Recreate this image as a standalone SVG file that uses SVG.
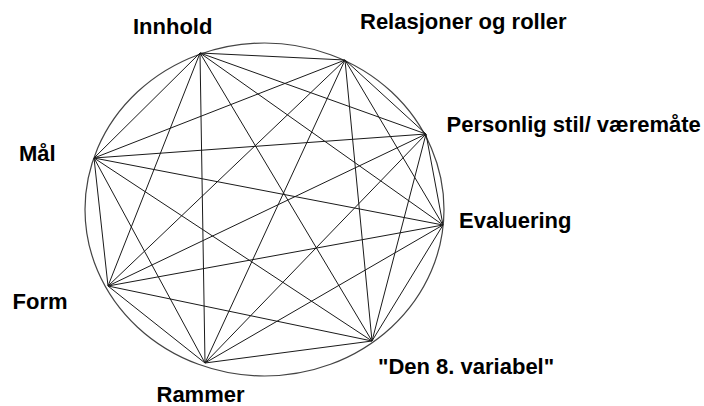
<svg xmlns="http://www.w3.org/2000/svg" width="704" height="406" viewBox="0 0 704 406">
<style>
.lbl{font-family:"Liberation Sans",Arial,sans-serif;font-weight:bold;font-size:22px;fill:#000}
.edge{stroke:#1a1a1a;stroke-width:1;fill:none}
.ring{stroke:#444;stroke-width:1.2;fill:none}
</style>
<rect width="704" height="406" fill="#fff"/>
<ellipse class="ring" cx="264.5" cy="209.5" rx="179.5" ry="166.5"/>
<g id="connectors">
<line class="edge" x1="200" y1="53" x2="345" y2="60"/>
<line class="edge" x1="200" y1="53" x2="426" y2="134"/>
<line class="edge" x1="200" y1="53" x2="443" y2="225"/>
<line class="edge" x1="200" y1="53" x2="372" y2="341"/>
<line class="edge" x1="200" y1="53" x2="205" y2="363"/>
<line class="edge" x1="200" y1="53" x2="108" y2="286"/>
<line class="edge" x1="200" y1="53" x2="94" y2="158"/>
<line class="edge" x1="345" y1="60" x2="426" y2="134"/>
<line class="edge" x1="345" y1="60" x2="443" y2="225"/>
<line class="edge" x1="345" y1="60" x2="372" y2="341"/>
<line class="edge" x1="345" y1="60" x2="205" y2="363"/>
<line class="edge" x1="345" y1="60" x2="108" y2="286"/>
<line class="edge" x1="345" y1="60" x2="94" y2="158"/>
<line class="edge" x1="426" y1="134" x2="443" y2="225"/>
<line class="edge" x1="426" y1="134" x2="372" y2="341"/>
<line class="edge" x1="426" y1="134" x2="205" y2="363"/>
<line class="edge" x1="426" y1="134" x2="108" y2="286"/>
<line class="edge" x1="426" y1="134" x2="94" y2="158"/>
<line class="edge" x1="443" y1="225" x2="372" y2="341"/>
<line class="edge" x1="443" y1="225" x2="205" y2="363"/>
<line class="edge" x1="443" y1="225" x2="108" y2="286"/>
<line class="edge" x1="443" y1="225" x2="94" y2="158"/>
<line class="edge" x1="372" y1="341" x2="205" y2="363"/>
<line class="edge" x1="372" y1="341" x2="108" y2="286"/>
<line class="edge" x1="372" y1="341" x2="94" y2="158"/>
<line class="edge" x1="205" y1="363" x2="108" y2="286"/>
<line class="edge" x1="205" y1="363" x2="94" y2="158"/>
<line class="edge" x1="108" y1="286" x2="94" y2="158"/>
</g>
<g id="innhold"><text class="lbl" x="133" y="34">Innhold</text></g>
<g id="relasjoner"><text class="lbl" x="360" y="29">Relasjoner og roller</text></g>
<g id="personlig"><text class="lbl" x="446.5" y="132">Personlig stil/ væremåte</text></g>
<g id="evaluering"><text class="lbl" x="459" y="228">Evaluering</text></g>
<g id="den8"><text class="lbl" x="378" y="374">"Den 8. variabel"</text></g>
<g id="rammer"><text class="lbl" x="156.5" y="401.5">Rammer</text></g>
<g id="form"><text class="lbl" x="12.5" y="309">Form</text></g>
<g id="mal"><text class="lbl" x="19" y="161">Mål</text></g>
</svg>
